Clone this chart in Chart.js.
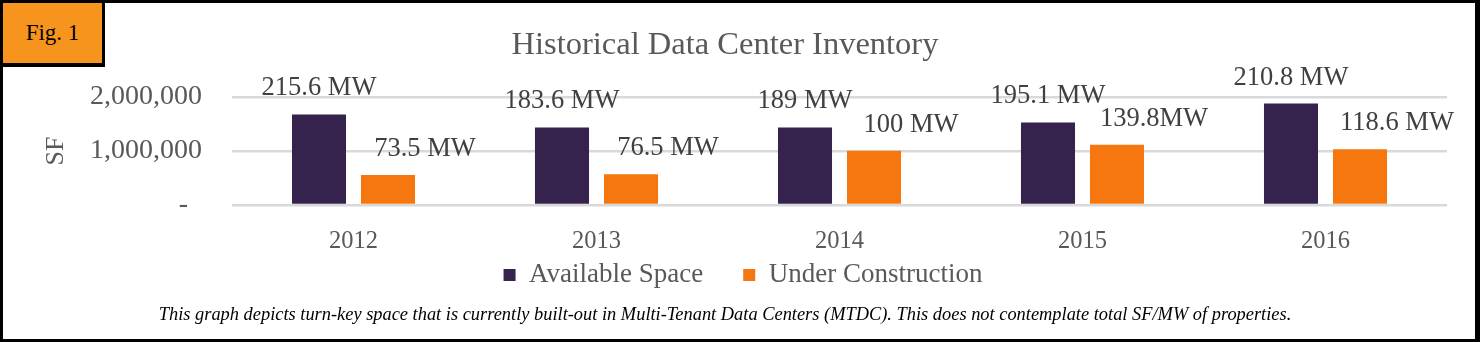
<!DOCTYPE html>
<html>
<head>
<meta charset="utf-8">
<script src="https://cdn.jsdelivr.net/npm/chart.js@4.4.0/dist/chart.umd.min.js"></script>
<style>
	html, body { margin: 0; padding: 0; background: #fff; }
	#frame {
		position: absolute; left: 0; top: 0;
		width: 1472px; height: 336px;
		border: 3px solid #000; border-right-width: 5px;
	}
	#frame canvas { position: absolute; left: 0; top: 0; }
	#fig {
		position: absolute; left: 0; top: 0;
		width: 99px; height: 60px;
		background: #F7941D;
		border-right: 3px solid #000; border-bottom: 4px solid #000;
		font: 23px "Liberation Serif", serif; color: #000;
		display: flex; align-items: center; justify-content: center;
	}
</style>
</head>
<body>
<div id="frame">
	<canvas id="chart" width="1472" height="336"></canvas>
	<div id="fig">Fig. 1</div>
</div>
<script>
// Chart data.
const categories = ['2012', '2013', '2014', '2015', '2016'];
const availableSF = [1675000, 1435000, 1435000, 1527000, 1878000];
const constructionSF = [555000, 567000, 1003000, 1114000, 1034000];
const availableMW = ['215.6 MW', '183.6 MW', '189 MW', '195.1 MW', '210.8 MW'];
const constructionMW = ['73.5 MW', '76.5 MW', '100 MW', '139.8MW', '118.6 MW'];
const yTicks = [0, 1000000, 2000000];

const serif = '"Liberation Serif", serif';
const grey = '#595959';

// Draws the MW labels above each bar.
const barLabels = {
	id: 'barLabels',
	afterDatasetsDraw(chart) {
		const ctx = chart.ctx;
		ctx.save();
		ctx.font = '26.5px ' + serif;
		ctx.fillStyle = '#404040';
		ctx.textAlign = 'center';
		ctx.textBaseline = 'middle';
		chart.data.datasets.forEach(function (dataset, i) {
			chart.getDatasetMeta(i).data.forEach(function (bar, j) {
				ctx.fillText(dataset.mwLabels[j], bar.x + dataset.labelShift, bar.y - 26);
			});
		});
		ctx.restore();
	}
};

// Nudges the legend a little to the right and down.
const legendNudge = {
	id: 'legendNudge',
	beforeInit(chart) {
		const legend = chart.legend;
		const draw = legend.draw;
		legend.draw = function () {
			this.ctx.save();
			this.ctx.translate(18, 2);
			draw.call(this);
			this.ctx.restore();
		};
	}
};

new Chart(document.querySelector('#chart'), {
	type: 'bar',
	data: {
		labels: categories,
		datasets: [{
			label: 'Available Space',
			data: availableSF,
			mwLabels: availableMW,
			labelShift: 0,
			backgroundColor: '#35234E'
		}, {
			label: 'Under Construction',
			data: constructionSF,
			mwLabels: constructionMW,
			labelShift: 37,
			backgroundColor: '#F6770F'
		}]
	},
	plugins: [barLabels, legendNudge],
	options: {
		responsive: false,
		animation: false,
		categoryPercentage: 0.568,
		barPercentage: 0.783,
		layout: { padding: { left: 0, right: 28, top: 0, bottom: 0 } },
		scales: {
			x: {
				afterFit: function (scale) { scale.height = 14.5; },
				grid: { display: false },
				border: { display: false },
				ticks: { color: grey, font: { family: serif, size: 24.5 }, mirror: true, padding: -51.7 }
			},
			y: {
				min: 0,
				max: 2000000,
				afterFit: function (scale) { scale.width = 229; },
				afterBuildTicks: function (scale) { scale.ticks = yTicks.map(v => ({ value: v })); },
				grid: { color: '#D9D9D9', lineWidth: 2.5, drawTicks: false },
				border: { display: false },
				ticks: {
					color: grey,
					padding: 30,
					font: { family: serif, size: 28 },
					callback: v => v === 0 ? '-\u2007' : v.toLocaleString('en-US')
				},
				title: {
					display: true,
					text: 'SF',
					color: grey,
					font: { family: serif, size: 26 },
					padding: { top: 38, bottom: 0 }
				}
			}
		},
		plugins: {
			title: {
				display: true,
				text: 'Historical Data Center Inventory',
				color: grey,
				font: { family: serif, size: 32.5, weight: 'normal' },
				padding: { top: 22.5, bottom: 32.5 }
			},
			subtitle: {
				display: true,
				position: 'bottom',
				text: 'This graph depicts turn-key space that is currently built-out in Multi-Tenant Data Centers (MTDC). This does not contemplate total SF/MW of properties.',
				color: '#000',
				font: { family: serif, size: 18.4, style: 'italic' },
				padding: { top: 7.6, bottom: 12.9 }
			},
			legend: {
				position: 'bottom',
				labels: {
					color: grey,
					boxWidth: 12,
					boxHeight: 12,
					padding: 40,
					font: { family: serif, size: 27 }
				}
			},
			tooltip: { enabled: false }
		}
	}
});
</script>
</body>
</html>
